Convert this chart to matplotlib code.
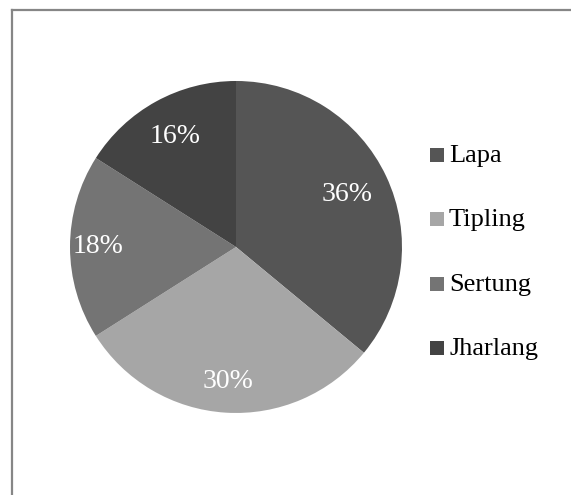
import matplotlib
matplotlib.use("Agg")
import matplotlib.pyplot as plt
import numpy as np
from matplotlib.lines import Line2D
from matplotlib.patches import Rectangle

categories = ["Lapa", "Tipling", "Sertung", "Jharlang"]
shares = [36, 30, 18, 16]
colors = ["#555555", "#a6a6a6", "#747474", "#434343"]
label_radius = [0.74, 0.81, 0.83, 0.76]

plt.rcParams['font.family'] = ['Liberation Serif', 'DejaVu Serif']

W, H = 571, 495
fig = plt.figure(figsize=(W / 100, H / 100), dpi=100)
ax = fig.add_axes([0.1226, 0.1657, 0.5814, 0.6707])
wedges, _ = ax.pie(shares, colors=colors, startangle=90, counterclock=False,
                   radius=1.0, wedgeprops=dict(linewidth=0))
ax.set_xlim(-1, 1)
ax.set_ylim(-1, 1)
ax.set_aspect('equal')
ax.axis('off')

total = sum(shares)
for w, v, r in zip(wedges, shares, label_radius):
    ang = np.deg2rad((w.theta1 + w.theta2) / 2)
    ax.text(r * np.cos(ang), r * np.sin(ang), f"{round(100 * v / total)}%",
            ha='center', va='center', color='white', fontsize=20)

# legend drawn in figure pixel coordinates
y0, dy = 155, 64.3
for i, (name, c) in enumerate(zip(categories, colors)):
    yc = y0 + i * dy
    fig.add_artist(Rectangle((430 / W, 1 - (yc + 7) / H), 14 / W, 14 / H,
                             transform=fig.transFigure, facecolor=c,
                             edgecolor='none'))
    fig.text(449 / W, 1 - (yc + 1) / H, name, ha='left', va='center',
             fontsize=19, color='black')

# frame: left and top border lines
fig.add_artist(Line2D([11.5 / W, 11.5 / W], [0, 1 - 9.5 / H],
                      transform=fig.transFigure, color='#868686', lw=1.6))
fig.add_artist(Line2D([11.5 / W, 1], [1 - 9.5 / H, 1 - 9.5 / H],
                      transform=fig.transFigure, color='#868686', lw=1.6))

fig.savefig("out.png", dpi=100, facecolor='white')
